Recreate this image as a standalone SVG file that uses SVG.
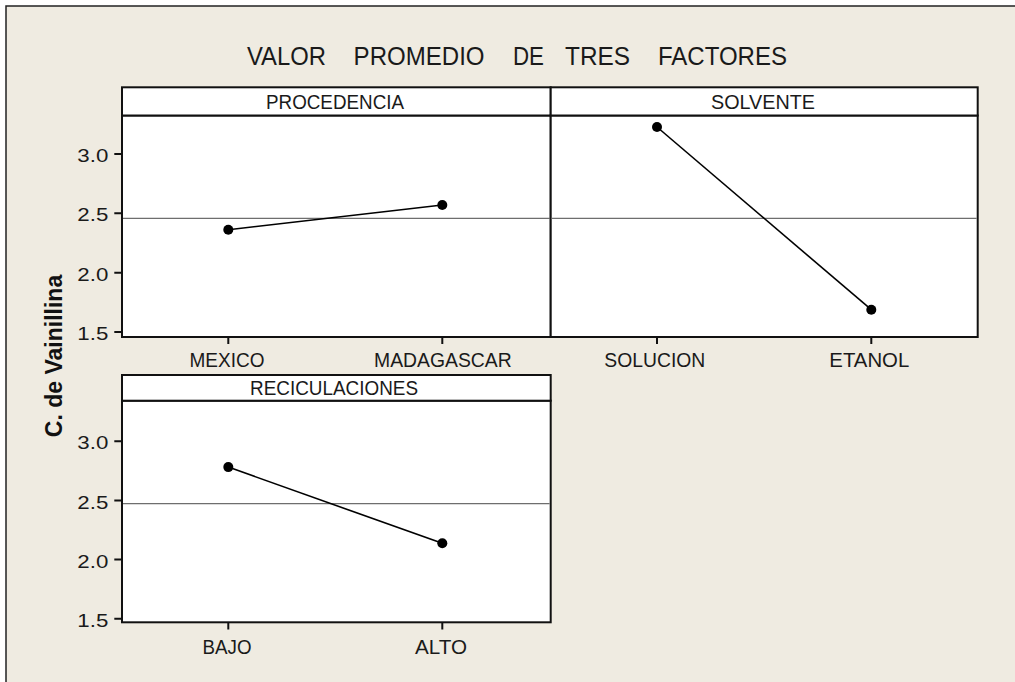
<svg xmlns="http://www.w3.org/2000/svg" width="1015" height="682" viewBox="0 0 1015 682">
<style>
.bg{fill:#EFEBE1}
.frame{fill:#fff;stroke:#111;stroke-width:2}
.hdr{fill:#fff;stroke:#111;stroke-width:2}
.mean{stroke:#6e6e6e;stroke-width:1.3;fill:none}
.tick{stroke:#111;stroke-width:2;fill:none}
.data{stroke:#000;stroke-width:1.6;fill:none}
.dot{fill:#000}
text{font-family:"Liberation Sans",Arial,sans-serif;fill:#1a1a1a}
.t{font-size:26px}
.h{font-size:20px}
.x{font-size:20px}
.y{font-size:19px}
.yl{font-size:23px;font-weight:bold;fill:#111}
</style>
<rect x="0" y="0" width="1015" height="682" fill="#fff"/>
<rect class="bg" x="6" y="6" width="1100" height="800" stroke="#222" stroke-width="1.5"/>

<g id="title">
<text class="t" x="247" y="65" textLength="79" lengthAdjust="spacingAndGlyphs">VALOR</text>
<text class="t" x="353.6" y="65" textLength="131" lengthAdjust="spacingAndGlyphs">PROMEDIO</text>
<text class="t" x="513" y="65" textLength="31" lengthAdjust="spacingAndGlyphs">DE</text>
<text class="t" x="565" y="65" textLength="65" lengthAdjust="spacingAndGlyphs">TRES</text>
<text class="t" x="658" y="65" textLength="129" lengthAdjust="spacingAndGlyphs">FACTORES</text>
</g>

<g id="y-axis-title">
<text class="yl" transform="translate(61.5,356) rotate(-90)" text-anchor="middle">C. de Vainillina</text>
</g>

<g id="panel-procedencia">
<rect class="frame" x="122" y="115.5" width="428.7" height="221.5"/>
<rect class="hdr" x="122" y="87.3" width="428.7" height="28.2"/>
<text class="h" x="266" y="108.5" textLength="138" lengthAdjust="spacingAndGlyphs">PROCEDENCIA</text>
<line class="mean" x1="123" y1="218.3" x2="549.7" y2="218.3"/>
<path class="tick" d="M114.3 154H122M114.3 213.3H122M114.3 272.7H122M114.3 332H122"/>
<text class="y" x="77.3" y="162" textLength="31" lengthAdjust="spacingAndGlyphs">3.0</text>
<text class="y" x="77.3" y="221.3" textLength="31" lengthAdjust="spacingAndGlyphs">2.5</text>
<text class="y" x="77.3" y="280.7" textLength="31" lengthAdjust="spacingAndGlyphs">2.0</text>
<text class="y" x="77.3" y="340" textLength="31" lengthAdjust="spacingAndGlyphs">1.5</text>
<path class="tick" d="M228.3 337V344M442.3 337V344"/>
<text class="x" x="189.5" y="367" textLength="75" lengthAdjust="spacingAndGlyphs">MEXICO</text>
<text class="x" x="374" y="367" textLength="137.7" lengthAdjust="spacingAndGlyphs">MADAGASCAR</text>
<circle class="dot" cx="228.3" cy="229.7" r="5"/>
<circle class="dot" cx="442.3" cy="205" r="5"/>
</g>

<g id="panel-solvente">
<rect class="frame" x="550.7" y="115.5" width="427" height="221.5"/>
<rect class="hdr" x="550.7" y="87.3" width="427" height="28.2"/>
<text class="h" x="711" y="108.5" textLength="104" lengthAdjust="spacingAndGlyphs">SOLVENTE</text>
<line class="mean" x1="551.7" y1="218.3" x2="976.7" y2="218.3"/>
<path class="tick" d="M657 337V344M871.3 337V344"/>
<text class="x" x="604.3" y="367" textLength="101" lengthAdjust="spacingAndGlyphs">SOLUCION</text>
<text class="x" x="829.3" y="367" textLength="80" lengthAdjust="spacingAndGlyphs">ETANOL</text>
<circle class="dot" cx="657" cy="127" r="5"/>
<circle class="dot" cx="871.3" cy="309.7" r="5"/>
</g>

<g id="panel-reciculaciones">
<rect class="frame" x="122" y="400.7" width="428.7" height="221.6"/>
<rect class="hdr" x="122" y="375" width="428.7" height="25.7"/>
<text class="h" x="250" y="395" textLength="168" lengthAdjust="spacingAndGlyphs">RECICULACIONES</text>
<line class="mean" x1="123" y1="503.7" x2="549.7" y2="503.7"/>
<path class="tick" d="M114.3 441.3H122M114.3 500.5H122M114.3 559.6H122M114.3 618.8H122"/>
<text class="y" x="77.3" y="449.3" textLength="31" lengthAdjust="spacingAndGlyphs">3.0</text>
<text class="y" x="77.3" y="508.5" textLength="31" lengthAdjust="spacingAndGlyphs">2.5</text>
<text class="y" x="77.3" y="567.6" textLength="31" lengthAdjust="spacingAndGlyphs">2.0</text>
<text class="y" x="77.3" y="626.8" textLength="31" lengthAdjust="spacingAndGlyphs">1.5</text>
<path class="tick" d="M228.3 622.3V629.5M442.3 622.3V629.5"/>
<text class="x" x="202.5" y="654" textLength="49" lengthAdjust="spacingAndGlyphs">BAJO</text>
<text class="x" x="415" y="654" textLength="52" lengthAdjust="spacingAndGlyphs">ALTO</text>
<circle class="dot" cx="228.3" cy="467.1" r="5"/>
<circle class="dot" cx="442.3" cy="543.3" r="5"/>
</g>

<g id="connectors">
<line class="data" x1="228.3" y1="229.7" x2="442.3" y2="205"/>
<line class="data" x1="657" y1="127" x2="871.3" y2="309.7"/>
<line class="data" x1="228.3" y1="467.1" x2="442.3" y2="543.3"/>
</g>
</svg>
